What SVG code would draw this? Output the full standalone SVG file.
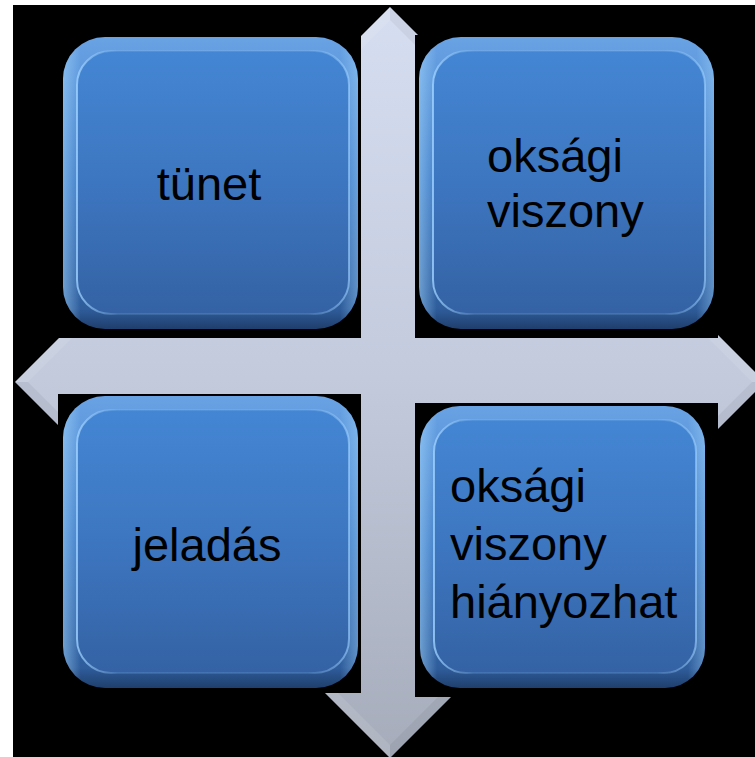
<svg xmlns="http://www.w3.org/2000/svg" width="755" height="757" viewBox="0 0 755 757">
<style>
.rim{fill:url(#rimGrad)}
.rimside{fill:url(#rimSide)}
.face{fill:url(#faceGrad);stroke:url(#faceStroke);stroke-width:2}
.mask{fill:#000}
.arm{fill:url(#armGrad)}
.bevel{fill:#ffffff;fill-opacity:.10}
.bevel2{fill:#000;fill-opacity:.05}
.lbl{font-family:"Liberation Sans",Arial,sans-serif;font-size:47px;fill:#000}
</style>
<defs>
<linearGradient id="armGrad" gradientUnits="userSpaceOnUse" x1="0" y1="0" x2="0" y2="757">
<stop offset="0" stop-color="#d6dff1"/>
<stop offset="0.5" stop-color="#c2cadc"/>
<stop offset="1" stop-color="#a6acba"/>
</linearGradient>
<linearGradient id="rimGrad" x1="0" y1="0" x2="0" y2="1">
<stop offset="0" stop-color="#6aa3e4"/>
<stop offset="0.5" stop-color="#3f7bc6"/>
<stop offset="0.93" stop-color="#2f5d9c"/>
<stop offset="1" stop-color="#1f3f6c"/>
</linearGradient>
<linearGradient id="rimSide" x1="0" y1="0" x2="1" y2="0">
<stop offset="0" stop-color="#a9dcff" stop-opacity=".5"/>
<stop offset="0.06" stop-color="#a9dcff" stop-opacity="0"/>
<stop offset="0.94" stop-color="#a9dcff" stop-opacity="0"/>
<stop offset="1" stop-color="#a9dcff" stop-opacity=".4"/>
</linearGradient>
<linearGradient id="faceGrad" x1="0" y1="0" x2="0" y2="1">
<stop offset="0" stop-color="#4486d4"/>
<stop offset="0.5" stop-color="#3d76c0"/>
<stop offset="1" stop-color="#3462a4"/>
</linearGradient>
<linearGradient id="faceStroke" x1="0" y1="0" x2="1" y2="0">
<stop offset="0" stop-color="#9fd2ff" stop-opacity=".8"/>
<stop offset="0.15" stop-color="#9fd2ff" stop-opacity=".15"/>
<stop offset="0.85" stop-color="#9fd2ff" stop-opacity=".15"/>
<stop offset="1" stop-color="#9fd2ff" stop-opacity=".6"/>
</linearGradient>
</defs>
<rect x="0" y="0" width="755" height="757" fill="#000"/>
<rect x="0" y="0" width="755" height="5" fill="#fff"/>
<rect x="0" y="0" width="13" height="757" fill="#fff"/>
<g id="connectors">
<polygon class="arm" points="15,382 80,317 80,338 700,338 700,317 765,382 700,447 700,426 80,426 80,447"/>
<polygon class="arm" points="390,7 455,72 434,72 434,693 455,693 390,758 325,693 346,693 346,72 325,72"/>
<polygon class="bevel" points="15,382 80,317 80,330 28,382"/>
<polygon class="bevel2" points="15,382 80,447 80,434 28,382"/>
<polygon class="bevel" points="390,7 325,72 338,72 390,20"/>
<polygon class="bevel2" points="390,7 455,72 442,72 390,20"/>
<polygon class="bevel" points="765,382 700,317 700,330 752,382"/>
<polygon class="bevel2" points="765,382 700,447 700,434 752,382"/>
<polygon class="bevel" points="390,758 325,693 338,693 390,745"/>
<polygon class="bevel2" points="390,758 455,693 442,693 390,745"/>
<rect class="mask" x="13" y="5" width="348" height="333"/>
<rect class="mask" x="415" y="35" width="303" height="303"/>
<rect class="mask" x="58" y="394" width="303" height="299"/>
<rect class="mask" x="415" y="403" width="303" height="294"/>
</g>
<g id="node-tunet">
<rect class="rim" x="63" y="37" width="295" height="292" rx="42"/>
<rect class="rimside" x="63" y="37" width="295" height="292" rx="42"/>
<rect class="face" x="77" y="51" width="272" height="263" rx="34"/>
<text class="lbl" x="209" y="200" text-anchor="middle">tünet</text>
</g>
<g id="node-oksagi-viszony">
<rect class="rim" x="419" y="37" width="295" height="292" rx="42"/>
<rect class="rimside" x="419" y="37" width="295" height="292" rx="42"/>
<rect class="face" x="433" y="51" width="272" height="263" rx="34"/>
<text class="lbl" x="487" y="172">oksági</text>
<text class="lbl" x="487" y="227">viszony</text>
</g>
<g id="node-jeladas">
<rect class="rim" x="63" y="396" width="295" height="292" rx="42"/>
<rect class="rimside" x="63" y="396" width="295" height="292" rx="42"/>
<rect class="face" x="77" y="410" width="272" height="263" rx="34"/>
<text class="lbl" x="207" y="561" text-anchor="middle">jeladás</text>
</g>
<g id="node-hianyozhat">
<rect class="rim" x="420" y="406" width="285" height="282" rx="40"/>
<rect class="rimside" x="420" y="406" width="285" height="282" rx="40"/>
<rect class="face" x="434" y="420" width="262" height="253" rx="32"/>
<text class="lbl" x="450" y="502">oksági</text>
<text class="lbl" x="450" y="560">viszony</text>
<text class="lbl" x="450" y="618">hiányozhat</text>
</g>
</svg>
